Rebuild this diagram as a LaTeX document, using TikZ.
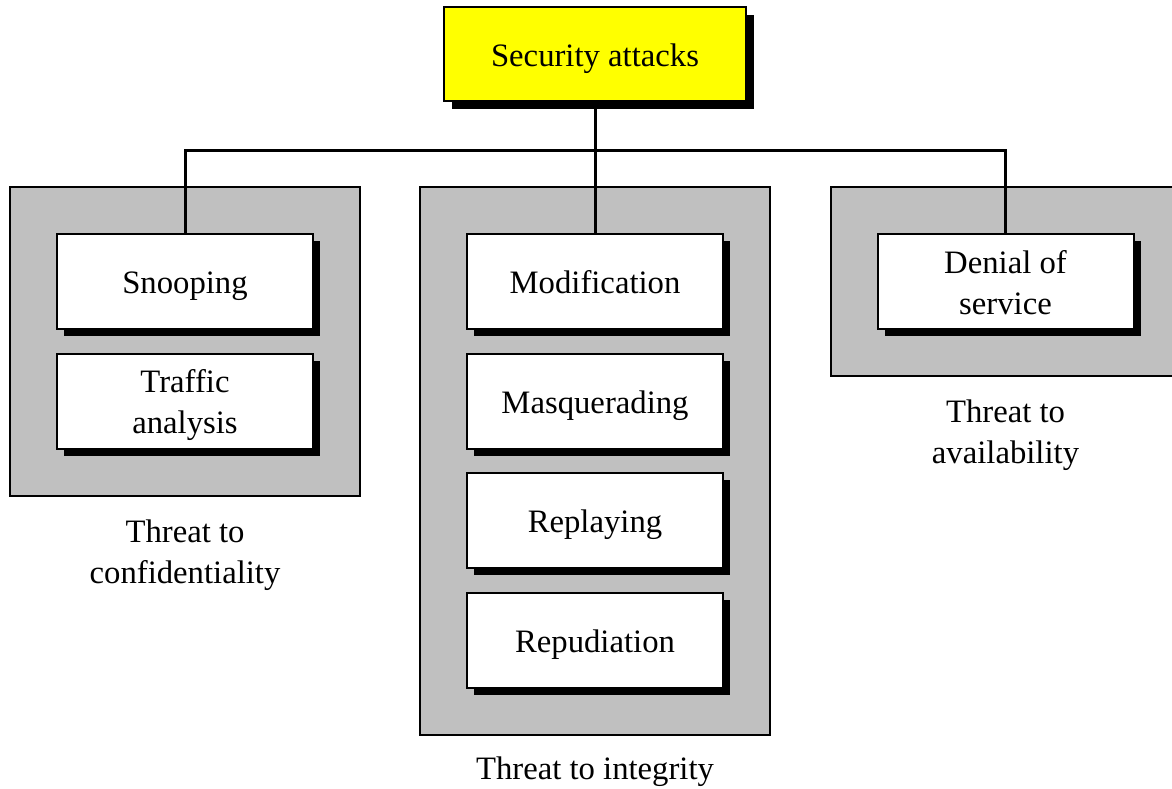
\documentclass[tikz,border=0pt]{standalone}
\usepackage{fontspec}
\setmainfont{Liberation Serif}
\usetikzlibrary{shadows}
\definecolor{panelgray}{HTML}{C0C0C0}
\definecolor{secyellow}{HTML}{FFFF00}
\newcommand\topstrutx{\rule{0pt}{32pt}}
\newcommand\botstrutx{\rule[-8pt]{0pt}{0pt}}
\tikzset{
  panel/.style={draw=black, line width=1.5pt, fill=panelgray},
  leaf/.style={draw=black, line width=2pt, fill=white, minimum width=256pt, minimum height=95pt,
    inner sep=0pt, align=center,
    general shadow={fill=black, shadow xshift=7pt, shadow yshift=-7pt}},
  rootbox/.style={draw=black, line width=2pt, fill=secyellow, minimum width=302pt, minimum height=94pt,
    inner sep=0pt, align=center,
    general shadow={fill=black, shadow xshift=8pt, shadow yshift=-8pt}},
  caption/.style={align=center, inner sep=0pt},
  conn/.style={draw=black, line width=3pt},
}
\begin{document}
\begin{tikzpicture}[x=1pt,y=-1pt,
  every node/.style={font=\fontsize{32.7pt}{41pt}\selectfont}]
\useasboundingbox (0,0) rectangle (1172,789);
\clip (0,0) rectangle (1172,789);
% panels
\path[panel] (10,187) rectangle (360,496);
\path[panel] (420,187) rectangle (770,735);
\path[panel] (831,187) rectangle (1185,376);
% root
\node[rootbox] (top) at (595,54.5) {\topstrutx Security attacks\botstrutx};
% leaves
\node[leaf] (snoop) at (185,281.5) {\topstrutx Snooping\botstrutx};
\node[leaf] (traffic) at (185,401) {\topstrutx Traffic\\analysis\botstrutx};
\node[leaf] (mod) at (595,281.5) {\topstrutx Modification\botstrutx};
\node[leaf] (masq) at (595,401) {\topstrutx Masquerading\botstrutx};
\node[leaf] (replay) at (595,520) {\topstrutx Replaying\botstrutx};
\node[leaf] (repud) at (595,640) {\topstrutx Repudiation\botstrutx};
\node[leaf] (den) at (1005.5,281.5) {\topstrutx Denial of\\service\botstrutx};
% captions
\node[caption] (capconf) at (185,551) {\topstrutx Threat to\\confidentiality\botstrutx};
\node[caption] (capint) at (595,767) {\topstrutx Threat to integrity\botstrutx};
\node[caption] (capavail) at (1005.5,431) {\topstrutx Threat to\\availability\botstrutx};
% connectors
\coordinate (hub) at (top.south |- 0,150);
\draw[conn] (top.south) -- (hub);
\draw[conn] (hub) -- (mod.north);
\draw[conn] (snoop.north) |- (hub);
\draw[conn] (hub) -| (den.north);
\end{tikzpicture}
\end{document}
